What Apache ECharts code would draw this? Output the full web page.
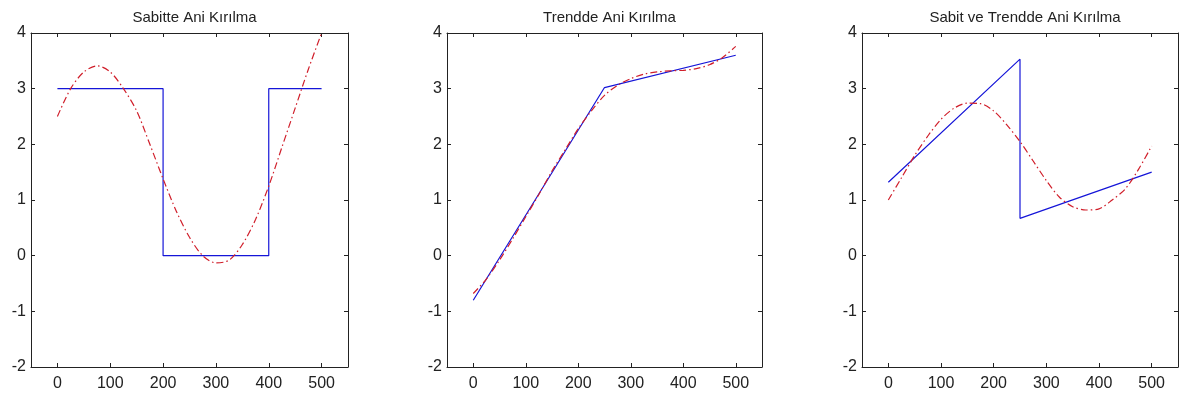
<!DOCTYPE html>
<html>
<head>
<meta charset="utf-8">
<script src="https://cdn.jsdelivr.net/npm/echarts@6/dist/echarts.min.js"></script>
<style>
  html, body { margin: 0; padding: 0; background: #fff; }
  #main { width: 1182px; height: 399px; }
</style>
</head>
<body>
<div id="main"></div>
<script>
// sample positions of the fitted (red) curves
var xs = [0, 25, 50, 75, 100, 125, 150, 175, 200, 225, 250, 275, 300, 325, 350, 375, 400, 425, 450, 475, 500];

var titles = ['Sabitte Ani Kırılma', 'Trendde Ani Kırılma', 'Sabit ve Trendde Ani Kırılma'];

// panel 1: level shift
var sabitBlueX = [0, 200, 200, 400, 400, 500];
var sabitBlueY = [3, 3, 0, 0, 3, 3];
var sabitRed = [2.5, 3.0, 3.3, 3.41, 3.3, 3.0, 2.6, 2.0, 1.38, 0.8, 0.33, 0.0, -0.13, -0.08, 0.2, 0.65, 1.25, 1.95, 2.65, 3.35, 4.0];

// panel 2: trend break
var trendBlueX = [0, 250, 500];
var trendBlueY = [-0.8, 3.02, 3.6];
var trendRed = [-0.68, -0.42, -0.08, 0.3, 0.7, 1.1, 1.52, 1.9, 2.28, 2.6, 2.88, 3.06, 3.18, 3.26, 3.3, 3.32, 3.33, 3.36, 3.43, 3.56, 3.76];

// panel 3: level + trend break
var bothBlueX = [0, 250, 250, 500];
var bothBlueY = [1.32, 3.53, 0.67, 1.5];
var bothRed = [1.0, 1.4, 1.8, 2.15, 2.45, 2.65, 2.74, 2.73, 2.6, 2.35, 2.05, 1.7, 1.35, 1.05, 0.88, 0.82, 0.84, 1.0, 1.2, 1.55, 1.97];

var xTicks = [0, 100, 200, 300, 400, 500];

var zip = function (a, b) {
    return a.map(function (v, i) { return [v, b[i]]; });
};

var myChart = echarts.init(document.getElementById('main'));

var grids = [
    { left: 31, top: 33, width: 317, height: 334 },
    { left: 447, top: 33, width: 315, height: 334 },
    { left: 862, top: 33, width: 316, height: 334 }
];

var axisLine = { show: true, onZero: false, lineStyle: { color: '#222', width: 1 } };
var tick = { show: true, inside: true, length: 4, lineStyle: { color: '#222' } };
var label = { color: '#222', fontFamily: 'Liberation Sans, Arial', fontSize: 16 };

var xAxes = [], yAxes = [], titleList = [], series = [];
grids.forEach(function (g, i) {
    [false, true].forEach(function (top) {
        xAxes.push({
            type: 'value', gridIndex: i, min: -50, max: 550,
            position: top ? 'top' : 'bottom',
            axisLine: axisLine, axisTick: tick, splitLine: { show: false },
            customValues: xTicks,
            axisLabel: top ? { show: false } : Object.assign({ margin: 9, customValues: xTicks }, label)
        });
        yAxes.push({
            type: 'value', gridIndex: i, min: -2, max: 4, interval: 1,
            position: top ? 'right' : 'left',
            axisLine: axisLine, axisTick: tick, splitLine: { show: false },
            axisLabel: top ? { show: false } : Object.assign({ margin: 5 }, label)
        });
    });
    titleList.push({
        text: titles[i], left: g.left + g.width / 2, top: 5, textAlign: 'center',
        textStyle: { fontFamily: 'Liberation Sans, Arial', fontSize: 15, fontWeight: 'normal', color: '#222' }
    });
});

var blues = [zip(sabitBlueX, sabitBlueY), zip(trendBlueX, trendBlueY), zip(bothBlueX, bothBlueY)];
var reds = [zip(xs, sabitRed), zip(xs, trendRed), zip(xs, bothRed)];

for (var i = 0; i < 3; i++) {
    series.push({
        type: 'line', xAxisIndex: i * 2, yAxisIndex: i * 2, data: blues[i],
        symbol: 'none', silent: true, z: 2,
        lineStyle: { color: '#1515d8', width: 1.2 }
    });
    series.push({
        type: 'line', xAxisIndex: i * 2, yAxisIndex: i * 2, data: reds[i],
        symbol: 'none', smooth: 0.3, silent: true, z: 3,
        lineStyle: { color: '#d01e2a', width: 1.2, type: [7, 3, 1.5, 3] }
    });
}

var option = {
    animation: false,
    title: titleList,
    grid: grids,
    xAxis: xAxes,
    yAxis: yAxes,
    series: series
};

myChart.setOption(option);
</script>
</body>
</html>
